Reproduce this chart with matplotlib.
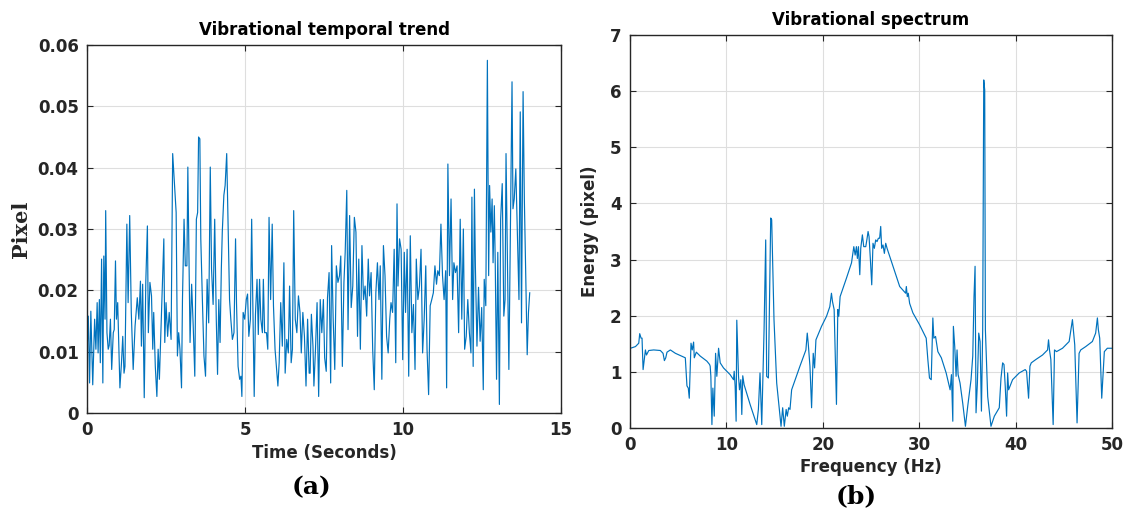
import numpy as np
import matplotlib
matplotlib.use('Agg')
import matplotlib.pyplot as plt

# ---- data ----
# (a) vibrational temporal trend: time (s) and displacement (pixel)
time = [0.00, 0.04, 0.08, 0.12, 0.18, 0.24, 0.28, 0.32, 0.35, 0.39,
        0.42, 0.46, 0.50, 0.53, 0.57, 0.59, 0.63, 0.67, 0.70, 0.74,
        0.78, 0.83, 0.86, 0.90, 0.93, 0.97, 1.01, 1.04, 1.09, 1.13,
        1.17, 1.20, 1.26, 1.30, 1.35, 1.40, 1.46, 1.52, 1.59, 1.64,
        1.69, 1.72, 1.76, 1.81, 1.86, 1.91, 1.94, 1.99, 2.04, 2.08,
        2.11, 2.16, 2.21, 2.25, 2.29, 2.35, 2.43, 2.46, 2.50, 2.55,
        2.60, 2.66, 2.71, 2.77, 2.82, 2.86, 2.90, 2.94, 2.99, 3.02,
        3.07, 3.11, 3.16, 3.19, 3.23, 3.26, 3.31, 3.36, 3.41, 3.46,
        3.50, 3.53, 3.57, 3.60, 3.65, 3.70, 3.75, 3.80, 3.85, 3.90,
        3.94, 3.99, 4.04, 4.09, 4.13, 4.17, 4.21, 4.25, 4.28, 4.33,
        4.37, 4.42, 4.47, 4.51, 4.55, 4.60, 4.65, 4.70, 4.73, 4.78,
        4.83, 4.87, 4.90, 4.94, 4.99, 5.04, 5.08, 5.12, 5.17, 5.21,
        5.24, 5.29, 5.33, 5.38, 5.42, 5.46, 5.50, 5.55, 5.58, 5.62,
        5.68, 5.72, 5.76, 5.81, 5.86, 5.90, 5.95, 6.00, 6.04, 6.08,
        6.13, 6.18, 6.23, 6.27, 6.32, 6.37, 6.41, 6.46, 6.50, 6.54,
        6.59, 6.64, 6.69, 6.74, 6.78, 6.83, 6.88, 6.93, 6.98, 7.03,
        7.06, 7.10, 7.15, 7.18, 7.23, 7.28, 7.33, 7.38, 7.43, 7.48,
        7.52, 7.57, 7.61, 7.66, 7.71, 7.74, 7.79, 7.84, 7.89, 7.94,
        7.99, 8.03, 8.08, 8.13, 8.17, 8.22, 8.26, 8.31, 8.36, 8.41,
        8.46, 8.51, 8.56, 8.60, 8.65, 8.70, 8.75, 8.80, 8.85, 8.90,
        8.94, 8.99, 9.04, 9.09, 9.14, 9.19, 9.24, 9.28, 9.33, 9.38,
        9.43, 9.48, 9.53, 9.58, 9.62, 9.67, 9.72, 9.77, 9.81, 9.84,
        9.89, 9.94, 9.99, 10.04, 10.08, 10.13, 10.18, 10.23, 10.28, 10.33,
        10.38, 10.42, 10.47, 10.52, 10.57, 10.62, 10.67, 10.72, 10.76, 10.81,
        10.86, 10.91, 10.96, 11.01, 11.06, 11.10, 11.15, 11.20, 11.25, 11.30,
        11.35, 11.38, 11.42, 11.47, 11.52, 11.57, 11.61, 11.66, 11.71, 11.76,
        11.81, 11.86, 11.91, 11.95, 12.00, 12.05, 12.10, 12.15, 12.18, 12.22,
        12.26, 12.29, 12.34, 12.39, 12.44, 12.49, 12.54, 12.57, 12.62, 12.67,
        12.71, 12.74, 12.78, 12.82, 12.85, 12.89, 12.92, 12.96, 13.00, 13.05,
        13.09, 13.14, 13.19, 13.23, 13.26, 13.31, 13.35, 13.40, 13.45, 13.48,
        13.52, 13.57, 13.62, 13.67, 13.71, 13.75, 13.80, 13.84, 13.89, 13.93,
        13.97, 14.01]
pixel = [0.0098, 0.0158, 0.0049, 0.0166, 0.0046, 0.0153, 0.0104, 0.0180, 0.0098, 0.0185,
         0.0082, 0.0251, 0.0049, 0.0256, 0.0153, 0.0330, 0.0131, 0.0104, 0.0110, 0.0153,
         0.0071, 0.0131, 0.0136, 0.0248, 0.0153, 0.0180, 0.0104, 0.0041, 0.0082, 0.0125,
         0.0065, 0.0076, 0.0308, 0.0180, 0.0322, 0.0164, 0.0071, 0.0142, 0.0188, 0.0153,
         0.0215, 0.0109, 0.0210, 0.0025, 0.0215, 0.0305, 0.0131, 0.0213, 0.0191, 0.0104,
         0.0164, 0.0076, 0.0027, 0.0104, 0.0055, 0.0153, 0.0284, 0.0115, 0.0180, 0.0125,
         0.0164, 0.0120, 0.0423, 0.0371, 0.0327, 0.0093, 0.0131, 0.0104, 0.0041, 0.0185,
         0.0316, 0.0240, 0.0240, 0.0401, 0.0229, 0.0115, 0.0210, 0.0142, 0.0060, 0.0316,
         0.0327, 0.0450, 0.0447, 0.0284, 0.0185, 0.0093, 0.0060, 0.0218, 0.0147, 0.0401,
         0.0235, 0.0177, 0.0316, 0.0153, 0.0063, 0.0185, 0.0115, 0.0235, 0.0295, 0.0355,
         0.0371, 0.0423, 0.0295, 0.0185, 0.0153, 0.0120, 0.0131, 0.0284, 0.0180, 0.0076,
         0.0055, 0.0060, 0.0027, 0.0164, 0.0153, 0.0185, 0.0194, 0.0125, 0.0153, 0.0316,
         0.0202, 0.0027, 0.0161, 0.0218, 0.0128, 0.0218, 0.0153, 0.0131, 0.0218, 0.0131,
         0.0131, 0.0104, 0.0319, 0.0185, 0.0308, 0.0175, 0.0104, 0.0071, 0.0044, 0.0082,
         0.0180, 0.0109, 0.0245, 0.0065, 0.0120, 0.0098, 0.0207, 0.0082, 0.0104, 0.0330,
         0.0153, 0.0131, 0.0191, 0.0164, 0.0098, 0.0164, 0.0125, 0.0044, 0.0153, 0.0065,
         0.0065, 0.0161, 0.0109, 0.0044, 0.0104, 0.0180, 0.0027, 0.0185, 0.0131, 0.0185,
         0.0090, 0.0068, 0.0188, 0.0229, 0.0049, 0.0273, 0.0153, 0.0071, 0.0240, 0.0213,
         0.0224, 0.0256, 0.0076, 0.0213, 0.0262, 0.0363, 0.0136, 0.0322, 0.0172, 0.0207,
         0.0319, 0.0295, 0.0125, 0.0251, 0.0104, 0.0273, 0.0185, 0.0207, 0.0158, 0.0251,
         0.0191, 0.0229, 0.0104, 0.0038, 0.0196, 0.0245, 0.0185, 0.0240, 0.0055, 0.0273,
         0.0224, 0.0125, 0.0098, 0.0153, 0.0180, 0.0164, 0.0267, 0.0082, 0.0341, 0.0207,
         0.0284, 0.0267, 0.0087, 0.0262, 0.0164, 0.0267, 0.0060, 0.0289, 0.0131, 0.0177,
         0.0071, 0.0251, 0.0185, 0.0207, 0.0267, 0.0098, 0.0153, 0.0240, 0.0104, 0.0030,
         0.0175, 0.0185, 0.0196, 0.0240, 0.0210, 0.0232, 0.0224, 0.0308, 0.0224, 0.0185,
         0.0232, 0.0041, 0.0406, 0.0224, 0.0349, 0.0185, 0.0245, 0.0229, 0.0240, 0.0131,
         0.0316, 0.0153, 0.0300, 0.0104, 0.0125, 0.0185, 0.0131, 0.0098, 0.0352, 0.0076,
         0.0365, 0.0240, 0.0109, 0.0205, 0.0117, 0.0172, 0.0038, 0.0218, 0.0175, 0.0575,
         0.0224, 0.0371, 0.0295, 0.0349, 0.0245, 0.0338, 0.0240, 0.0055, 0.0262, 0.0014,
         0.0316, 0.0374, 0.0158, 0.0185, 0.0423, 0.0229, 0.0071, 0.0305, 0.0540, 0.0333,
         0.0349, 0.0398, 0.0295, 0.0185, 0.0491, 0.0147, 0.0524, 0.0349, 0.0213, 0.0095,
         0.0164, 0.0196]

# (b) vibrational spectrum: vertices of the traced curve
freq = [0.05, 0.57, 0.91, 1.01, 1.15, 1.25, 1.36, 1.50, 1.60, 1.71, 1.95, 2.46, 3.15, 3.43,
        3.57, 3.71, 3.84, 4.19, 4.71, 5.74, 5.91, 6.05, 6.15, 6.33, 6.46, 6.60, 6.67, 6.88,
        7.29, 7.98, 8.26, 8.32, 8.39, 8.50, 8.60, 8.74, 8.88, 9.01, 9.19, 9.36, 9.70, 10.39,
        10.74, 10.81, 10.91, 11.01, 11.08, 11.26, 11.36, 11.50, 11.60, 11.70, 11.84, 12.46,
        13.15, 13.32, 13.49, 13.67, 13.91, 14.08, 14.18, 14.36, 14.60, 14.70, 14.94, 15.22,
        15.67, 15.84, 16.01, 16.20, 16.32, 16.46, 16.60, 16.77, 17.63, 18.25, 18.39, 18.49,
        18.67, 18.84, 19.01, 19.15, 19.29, 19.87, 20.39, 20.73, 20.90, 21.01, 21.18, 21.42,
        21.56, 21.66, 21.80, 22.46, 22.98, 23.22, 23.36, 23.49, 23.59, 23.70, 23.84, 23.94,
        24.11, 24.25, 24.46, 24.60, 24.70, 24.80, 24.94, 25.08, 25.21, 25.35, 25.49, 25.63,
        25.77, 25.90, 26.01, 26.11, 26.25, 26.39, 26.53, 26.67, 27.29, 27.98, 28.60, 28.67,
        28.77, 28.87, 29.01, 29.35, 30.04, 30.73, 30.90, 31.07, 31.25, 31.42, 31.52, 31.70,
        31.94, 32.30, 32.80, 33.21, 33.35, 33.49, 33.55, 33.69, 33.83, 33.93, 34.04, 34.24,
        34.52, 34.80, 35.04, 35.38, 35.56, 35.69, 35.80, 35.90, 36.04, 36.18, 36.32, 36.46,
        36.59, 36.70, 36.80, 36.87, 37.11, 37.45, 37.80, 38.31, 38.49, 38.66, 38.80, 38.93,
        39.07, 39.18, 39.28, 39.69, 40.38, 41.00, 41.14, 41.35, 41.49, 41.63, 42.11, 42.80,
        43.32, 43.42, 43.52, 43.66, 43.90, 44.04, 44.25, 44.87, 45.56, 45.90, 46.01, 46.14,
        46.38, 46.59, 46.76, 47.28, 47.97, 48.31, 48.49, 48.59, 48.73, 48.94, 49.07, 49.21,
        49.52, 50.00]
energy = [1.42, 1.45, 1.51, 1.68, 1.60, 1.60, 1.04, 1.25, 1.39, 1.30, 1.38, 1.39, 1.38, 1.33,
          1.20, 1.25, 1.35, 1.39, 1.33, 1.25, 0.75, 0.71, 0.53, 1.51, 1.39, 1.53, 1.25, 1.35,
          1.28, 1.19, 1.13, 1.10, 0.92, 0.06, 0.71, 0.21, 1.33, 0.92, 1.42, 1.16, 1.07, 0.95,
          0.86, 1.01, 0.74, 0.12, 1.92, 0.92, 0.68, 0.86, 0.24, 0.93, 0.77, 0.42,
          0.06, 0.33, 0.98, 0.06, 1.75, 3.35, 0.92, 0.89, 3.74, 3.71, 1.93, 0.80,
          0.03, 0.36, 0.03, 0.33, 0.21, 0.36, 0.33, 0.68, 1.10, 1.39, 1.69, 1.51,
          1.10, 0.36, 1.33, 1.07, 1.57, 1.81, 1.99, 2.16, 2.40, 2.25, 2.11, 0.42,
          2.11, 1.99, 2.34, 2.67, 2.94, 3.23, 3.08, 3.23, 3.02, 3.23, 2.73, 3.20,
          3.44, 3.23, 3.23, 3.38, 3.50, 3.41, 3.00, 2.55, 3.29, 3.20, 3.35, 3.32,
          3.38, 3.38, 3.59, 3.20, 3.26, 3.11, 3.29, 3.20, 2.88, 2.52, 2.40, 2.52,
          2.34, 2.40, 2.22, 2.05, 1.84, 1.60, 1.22, 0.89, 0.86, 1.96, 1.60, 1.63,
          1.36, 1.25, 0.98, 0.68, 0.95, 0.12, 1.81, 1.45, 0.92, 1.39, 0.95, 0.80,
          0.44, 0.03, 0.39, 0.86, 1.28, 2.34, 2.88, 0.27, 0.80, 1.69, 1.54, 0.30,
          1.75, 6.20, 6.02, 1.75, 0.56, 0.03, 0.21, 0.36, 0.89, 1.16, 1.13, 0.74,
          0.21, 0.98, 0.68, 0.86, 0.98, 1.04, 1.01, 0.53, 1.10, 1.16, 1.22, 1.30,
          1.39, 1.57, 1.39, 1.22, 0.06, 1.39, 1.36, 1.42, 1.54, 1.93, 1.72, 1.48,
          0.09, 1.33, 1.39, 1.45, 1.54, 1.69, 1.96, 1.75, 1.60, 0.53, 0.92, 1.36,
          1.42, 1.42]

LINE = '#0072BD'
AX = '#262626'

fig = plt.figure(figsize=(11.29, 5.15), dpi=100)
ax1 = fig.add_axes([0.0771, 0.198, 0.4198, 0.7146])
ax2 = fig.add_axes([0.558, 0.169, 0.4269, 0.763])


def style(ax):
    ax.grid(True, color='#dedede', linewidth=0.8)
    ax.set_axisbelow(True)
    for s in ax.spines.values():
        s.set_color(AX)
        s.set_linewidth(1.0)
    ax.tick_params(direction='in', top=True, right=True, length=4, width=0.8,
                   colors=AX, labelsize=12, pad=6)
    for lab in ax.get_xticklabels() + ax.get_yticklabels():
        lab.set_fontweight('bold')


ax1.plot(time, pixel, color=LINE, linewidth=0.85)
ax1.set_xlim(0, 15)
ax1.set_ylim(0, 0.06)
ax1.set_xticks([0, 5, 10, 15])
ax1.set_yticks(np.arange(0, 0.061, 0.01))
ax1.set_yticklabels(['0', '0.01', '0.02', '0.03', '0.04', '0.05', '0.06'])
style(ax1)
ax1.set_title('Vibrational temporal trend', fontsize=12, fontweight='bold', pad=7)
ax1.set_xlabel('Time (Seconds)', fontsize=12, fontweight='bold', color=AX, labelpad=3)
ax1.set_ylabel('Pixel', fontsize=15, fontweight='bold', family='DejaVu Serif', color=AX)
ax1.yaxis.set_label_coords(-0.118, 0.5)

ax2.plot(freq, energy, color=LINE, linewidth=0.85)
ax2.set_xlim(0, 50)
ax2.set_ylim(0, 7)
ax2.set_xticks(np.arange(0, 51, 10))
ax2.set_yticks(np.arange(0, 8, 1))
style(ax2)
ax2.set_title('Vibrational spectrum', fontsize=12, fontweight='bold', pad=7)
ax2.set_xlabel('Frequency (Hz)', fontsize=12, fontweight='bold', color=AX, labelpad=3)
ax2.set_ylabel('Energy (pixel)', fontsize=12, fontweight='bold', color=AX, labelpad=8)

fig.text(311 / 1129, 0.054, '(a)', fontsize=18, fontweight='bold', family='DejaVu Serif',
         ha='center', va='center')
fig.text(856 / 1129, 0.037, '(b)', fontsize=18, fontweight='bold', family='DejaVu Serif',
         ha='center', va='center')

fig.savefig('out.png', dpi=100, facecolor='white')
